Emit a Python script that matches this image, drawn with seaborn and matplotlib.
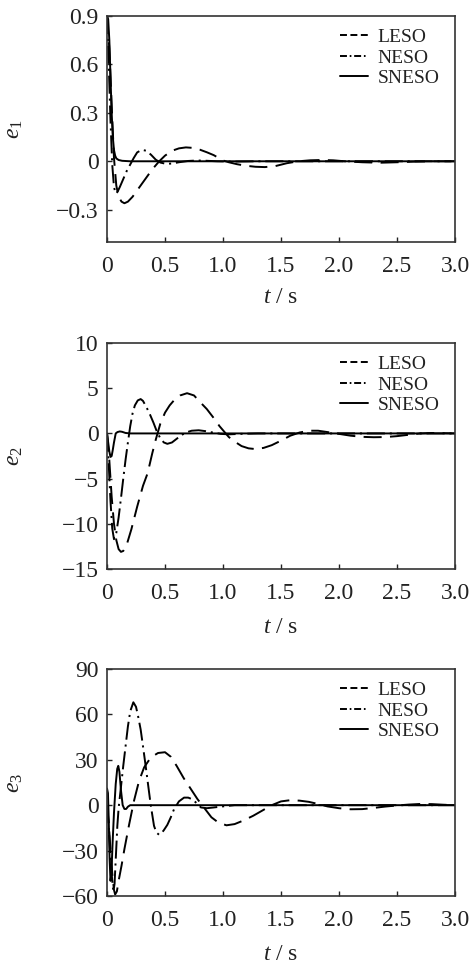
import matplotlib
matplotlib.use("Agg")
import matplotlib.pyplot as plt
from matplotlib.lines import Line2D
import seaborn as sns

# error e1
t1_leso = [0, 0.02, 0.04, 0.06, 0.08, 0.10, 0.125, 0.15, 0.18, 0.22, 0.27, 0.33, 0.39, 0.45, 0.50,
           0.56, 0.62, 0.68, 0.74, 0.80, 0.86, 0.92, 1.00, 1.05, 1.12, 1.20, 1.28, 1.36, 1.45, 1.55,
           1.65, 1.75, 1.85, 1.95, 2.05, 2.20, 2.35, 2.50, 2.65, 2.80, 3.00]
e1_leso = [0.9, 0.7, 0.35, 0.02, -0.15, -0.22, -0.25, -0.26, -0.25, -0.22, -0.17, -0.11, -0.05, 0.0, 0.035,
           0.065, 0.08, 0.086, 0.083, 0.072, 0.056, 0.038, 0.005, -0.006, -0.018, -0.028, -0.034, -0.036, -0.03, -0.012,
           0.0, 0.006, 0.008, 0.006, 0.0, -0.006, -0.009, -0.006, -0.002, 0.0, 0.0]
t1_neso = [0, 0.015, 0.03, 0.045, 0.06, 0.075, 0.09, 0.11, 0.14, 0.17, 0.20, 0.23, 0.26, 0.30, 0.34,
           0.38, 0.42, 0.46, 0.51, 0.56, 0.62, 0.70, 0.78, 0.86, 0.95, 1.10, 1.30, 3.0]
e1_neso = [0.9, 0.6, 0.25, -0.02, -0.16, -0.2, -0.19, -0.16, -0.11, -0.06, -0.02, 0.02, 0.055, 0.071, 0.065,
           0.04, 0.01, -0.008, -0.016, -0.014, -0.006, 0.002, 0.005, 0.003, 0.0, -0.002, 0.0, 0.0]
t1_sneso = [0, 0.01, 0.02, 0.03, 0.04, 0.05, 0.06, 0.07, 0.08, 0.10, 0.13, 0.20, 3.0]
e1_sneso = [0.9, 0.88, 0.75, 0.52, 0.30, 0.15, 0.07, 0.035, 0.018, 0.008, 0.003, 0.0, 0.0]

# error e2
t2_leso = [0, 0.02, 0.04, 0.06, 0.08, 0.10, 0.12, 0.14, 0.17, 0.21, 0.26, 0.31, 0.35, 0.39, 0.42,
           0.46, 0.50, 0.54, 0.58, 0.63, 0.69, 0.75, 0.80, 0.86, 0.92, 0.97, 1.01, 1.05, 1.10, 1.16,
           1.22, 1.28, 1.35, 1.42, 1.50, 1.58, 1.66, 1.74, 1.82, 1.90, 2.00, 2.10, 2.20, 2.30, 2.40,
           2.50, 2.60, 2.70, 2.80, 3.00]
e2_leso = [0, -3, -7, -10, -11.8, -12.8, -13.1, -13.0, -12.3, -10.6, -8.1, -5.8, -4.4, -2.2, -0.7,
           1.1, 2.3, 3.1, 3.7, 4.2, 4.45, 4.2, 3.5, 2.7, 1.7, 0.8, 0.2, -0.4, -0.9, -1.4,
           -1.65, -1.73, -1.6, -1.3, -0.8, -0.25, 0.1, 0.3, 0.3, 0.15, -0.05, -0.25, -0.38, -0.42, -0.4,
           -0.3, -0.15, 0.0, 0.05, 0.0]
t2_neso = [0, 0.015, 0.03, 0.045, 0.06, 0.08, 0.10, 0.12, 0.14, 0.16, 0.18, 0.20, 0.22, 0.24, 0.265,
           0.29, 0.31, 0.34, 0.37, 0.40, 0.43, 0.46, 0.49, 0.52, 0.56, 0.60, 0.64, 0.68, 0.73, 0.79,
           0.85, 0.92, 0.98, 1.05, 1.15, 1.30, 3.0]
e2_neso = [0, -3.5, -7.5, -10.5, -11.7, -11.0, -9.3, -7.2, -5.0, -2.9, -1.0, 0.8, 2.2, 3.1, 3.65,
           3.8, 3.6, 2.9, 2.1, 1.2, 0.2, -0.55, -1.0, -1.15, -1.0, -0.6, -0.2, 0.1, 0.3, 0.35,
           0.25, 0.08, -0.05, -0.1, -0.05, 0.0, 0.0]
t2_sneso = [0, 0.01, 0.02, 0.03, 0.04, 0.05, 0.06, 0.075, 0.09, 0.11, 0.13, 0.16, 0.20, 3.0]
e2_sneso = [0, -1.0, -2.0, -2.6, -2.5, -1.8, -1.0, 0.0, 0.15, 0.22, 0.18, 0.05, 0.0, 0.0]

# error e3
t3_leso = [0, 0.015, 0.03, 0.045, 0.06, 0.07, 0.085, 0.10, 0.125, 0.15, 0.19, 0.233, 0.276, 0.32, 0.377,
           0.44, 0.50, 0.55, 0.60, 0.66, 0.72, 0.78, 0.84, 0.90, 0.96, 1.03, 1.10, 1.18, 1.26, 1.34,
           1.42, 1.50, 1.58, 1.66, 1.74, 1.82, 1.90, 2.00, 2.10, 2.20, 2.30, 2.40, 2.50, 2.60, 2.70,
           2.80, 2.90, 3.00]
e3_leso = [0, -12, -30, -45, -56, -59, -57, -50, -40, -29, -13, 3, 16, 25, 31.5,
           34.5, 35, 32, 26, 18, 11, 4, -2, -8, -11.5, -13.3, -12.5, -10, -7, -3.5,
           0, 2.5, 3.3, 3.0, 2.2, 0.8, -0.8, -2.0, -2.7, -2.6, -1.8, -0.9, -0.2, 0.4, 0.8,
           0.7, 0.3, 0]
t3_neso = [0, 0.015, 0.03, 0.045, 0.055, 0.065, 0.075, 0.089, 0.10, 0.118, 0.14, 0.16, 0.18, 0.20, 0.227,
           0.25, 0.27, 0.29, 0.31, 0.333, 0.355, 0.377, 0.405, 0.425, 0.448, 0.47, 0.49, 0.52, 0.55, 0.578,
           0.62, 0.664, 0.70, 0.735, 0.77, 0.81, 0.86, 0.92, 1.00, 1.10, 3.0]
e3_neso = [0, -15, -35, -50, -57, -52, -36, -13.6, -2, 10.5, 26, 39, 52, 62, 68,
           65, 58, 50, 39, 26, 13, 0, -13.6, -18, -19.5, -18.5, -16.5, -13, -8, -2.6,
           2.5, 5, 5, 3.9, 1.5, -1.5, -2, -1.5, -0.8, 0, 0]
t3_sneso = [0, 0.008, 0.015, 0.022, 0.03, 0.038, 0.048, 0.06, 0.075, 0.088, 0.097, 0.107, 0.12, 0.135, 0.15,
            0.165, 0.18, 0.20, 3.0]
e3_sneso = [11, 8, -10, -35, -50, -45, -25, -5, 14, 24, 26, 22, 10, 0, -2.5,
            -2.5, -1, 0, 0]

names = ["LESO", "NESO", "SNESO"]
x_ticks = [0, 0.5, 1.0, 1.5, 2.0, 2.5, 3.0]
x_labels = ["0", "0.5", "1.0", "1.5", "2.0", "2.5", "3.0"]
y_ticks = [[-0.3, 0, 0.3, 0.6, 0.9], [-15, -10, -5, 0, 5, 10], [-60, -30, 0, 30, 60, 90]]
y_labels = [["\u22120.3", "0", "0.3", "0.6", "0.9"],
            ["\u221215", "\u221210", "\u22125", "0", "5", "10"],
            ["\u221260", "\u221230", "0", "30", "60", "90"]]
y_lims = [(-0.5, 0.9), (-15, 10), (-60, 90)]
y_names = ["$e_1$", "$e_2$", "$e_3$"]

panels = [
    [(t1_leso, e1_leso), (t1_neso, e1_neso), (t1_sneso, e1_sneso)],
    [(t2_leso, e2_leso), (t2_neso, e2_neso), (t2_sneso, e2_sneso)],
    [(t3_leso, e3_leso), (t3_neso, e3_neso), (t3_sneso, e3_sneso)],
]

sns.set_theme(style="ticks")
plt.rcParams["font.family"] = ["Liberation Serif", "DejaVu Serif"]
plt.rcParams["mathtext.fontset"] = "custom"
plt.rcParams["mathtext.it"] = "Liberation Serif:italic"
plt.rcParams["mathtext.rm"] = "Liberation Serif"
plt.rcParams["lines.scale_dashes"] = False

ink = "#222222"
plot_styles = [(0, (13, 6)), (0, (13, 3.5, 1.5, 3.5)), "-"]
legend_styles = [(0, (5, 2.5)), (0, (5, 2, 1.2, 2)), "-"]

fig = plt.figure(figsize=(4.7, 9.63), dpi=100)
boxes = [[0.2277, 0.7487, 0.7404, 0.2347],
         [0.2277, 0.4091, 0.7404, 0.2347],
         [0.2277, 0.0696, 0.7404, 0.2357]]
xlab_y = [-0.2, -0.213, -0.21]

for i, series in enumerate(panels):
    ax = fig.add_axes(boxes[i])
    for (t, e), ls in zip(series, plot_styles):
        sns.lineplot(x=t, y=e, ax=ax, color="black", linestyle=ls, lw=1.4,
                     estimator=None, sort=False)
    ax.set_xlim(0, 3)
    ax.set_ylim(*y_lims[i])
    ax.set_xticks(x_ticks)
    ax.set_xticklabels(x_labels)
    ax.set_yticks(y_ticks[i])
    ax.set_yticklabels(y_labels[i])
    ax.tick_params(direction="in", length=3.5, width=1, colors=ink, labelsize=17,
                   top=False, right=False)
    ax.tick_params(axis="x", pad=10)
    ax.tick_params(axis="y", pad=6)
    for sp in ax.spines.values():
        sp.set_visible(True)
        sp.set_color("#333333")
        sp.set_linewidth(1.2)
    ax.set_xlabel("$t$ / s", fontsize=17, color=ink)
    ax.set_ylabel(y_names[i], fontsize=17, color=ink, rotation=90)
    ax.xaxis.set_label_coords(0.5, xlab_y[i])
    ax.yaxis.set_label_coords(-0.235, 0.5)
    handles = [Line2D([], [], color="black", linestyle=ls, lw=1.4) for ls in legend_styles]
    ax.legend(handles, names, loc="upper right", bbox_to_anchor=(0.955, 0.945),
              frameon=False, fontsize=14, handlelength=1.45, handletextpad=0.5,
              labelspacing=0.15, borderpad=0, borderaxespad=0, labelcolor=ink)

fig.savefig("out.png", dpi=100)
